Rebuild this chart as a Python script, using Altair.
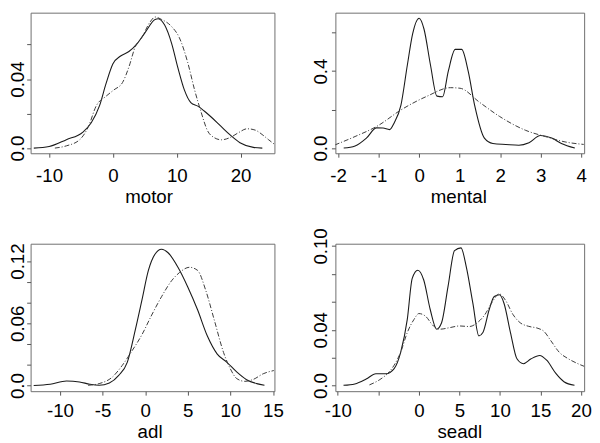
import altair as alt
import pandas as pd

FONT = "Liberation Sans"

# ---------------- data ----------------
MOTOR_SOLID_X = [-12.4, -10, -7.3, -4.7, -3.4, -2.1, -1.1, 0, 1.2, 2.5, 3.8, 5.0, 6.6, 7.1, 8.1, 9.2,
                 10.2, 11.2, 12.2, 13.3, 14.3, 15.3, 16.9, 18.4, 19.9, 22.0, 23.4]
MOTOR_SOLID_Y = [0, 0.0009, 0.0049, 0.0093, 0.0147, 0.0246, 0.0372, 0.0489, 0.0534, 0.056, 0.0606, 0.0668,
                 0.0746, 0.075, 0.0713, 0.0606, 0.0462, 0.0336, 0.0264, 0.0243, 0.0215, 0.0183, 0.0127,
                 0.0075, 0.0031, 0.0004, 0.0]
MOTOR_DASH_X = [-9.1, -7.3, -5.2, -3.9, -2.6, -1.1, 0.1, 1.5, 2.5, 3.5, 4.5, 5.8, 6.6, 7.6, 9.2, 10.4,
                11.7, 12.8, 13.8, 14.8, 15.8, 17.0, 18.4, 19.7, 21.0, 22.3, 23.5, 24.4, 25.3]
MOTOR_DASH_Y = [0, 0.0013, 0.0049, 0.012, 0.0246, 0.030, 0.0336, 0.038, 0.047, 0.0588, 0.064, 0.073,
                0.076, 0.0746, 0.0704, 0.064, 0.0498, 0.0336, 0.021, 0.0102, 0.0062, 0.0048, 0.0062,
                0.009, 0.0112, 0.0104, 0.0075, 0.0048, 0.0022]

MENTAL_SOLID_X = [-1.86, -1.58, -1.30, -1.05, -0.89, -0.73, -0.61, -0.45, -0.29, -0.16, 0.0, 0.12, 0.28,
                  0.44, 0.58, 0.72, 0.89, 1.05, 1.21, 1.37, 1.61, 1.82, 2.14, 2.46, 2.71, 2.99, 3.27,
                  3.51, 3.84]
MENTAL_SOLID_Y = [0, 0.011, 0.052, 0.105, 0.104, 0.096, 0.133, 0.222, 0.432, 0.594, 0.675, 0.619, 0.432,
                  0.270, 0.267, 0.40, 0.513, 0.513, 0.40, 0.222, 0.052, 0.024, 0.019, 0.015, 0.028,
                  0.065, 0.052, 0.024, 0.0]
MENTAL_DASH_X = [-2.08, -1.58, -1.01, -0.45, 0.20, 0.77, 1.01, 1.49, 1.98, 2.63, 3.11, 3.60, 4.06]
MENTAL_DASH_Y = [0.016, 0.06, 0.117, 0.198, 0.27, 0.314, 0.311, 0.238, 0.165, 0.092, 0.06, 0.032, 0.019]

ADL_SOLID_X = [-13.08, -11.15, -9.23, -7.7, -6.5, -5.4, -4.2, -3.1, -2.1, -1.15, -0.38, 0.38, 1.15, 1.92,
               2.69, 3.85, 5.0, 6.15, 7.3, 8.46, 9.6, 10.77, 11.9, 13.1, 14.0]
ADL_SOLID_Y = [0, 0.0013, 0.0044, 0.0035, 0.0013, 0.0003, 0.0025, 0.0098, 0.0224, 0.054, 0.0824, 0.111,
               0.1266, 0.1314, 0.128, 0.114, 0.095, 0.073, 0.0477, 0.0303, 0.0224, 0.0129, 0.0057,
               0.0019, 0.0003]
ADL_DASH_X = [-6.7, -5.4, -3.85, -2.7, -1.54, -0.38, 0.77, 1.92, 3.1, 4.04, 5.2, 6.15, 7.1, 8.1, 9.2,
              10.0, 10.77, 11.7, 12.7, 13.85, 15.1]
ADL_DASH_Y = [0.0003, 0.0019, 0.0082, 0.0193, 0.0335, 0.049, 0.068, 0.0856, 0.101, 0.109, 0.114, 0.111,
              0.092, 0.0635, 0.0319, 0.0161, 0.0066, 0.0041, 0.006, 0.0114, 0.0145]

SEADL_SOLID_X = [-9.3, -7.9, -6.5, -5.3, -4.06, -3.05, -2.24, -1.43, -0.82, -0.13, 0.6, 1.4, 2.2, 2.8,
                 3.6, 4.4, 5.2, 5.85, 6.66, 7.4, 7.9, 8.68, 9.3, 9.95, 10.5, 11.3, 12.1, 12.9, 13.8,
                 14.9, 15.8, 16.9, 17.9, 19.2]
SEADL_SOLID_Y = [0.0002, 0.0012, 0.0047, 0.0085, 0.0085, 0.0122, 0.024, 0.0474, 0.0768, 0.0826, 0.0756,
                 0.0545, 0.0404, 0.045, 0.071, 0.0967, 0.0986, 0.085, 0.059, 0.0356, 0.038, 0.0545,
                 0.0638, 0.065, 0.059, 0.038, 0.0192, 0.0157, 0.019, 0.0216, 0.018, 0.0087, 0.0028,
                 0.0002]
SEADL_DASH_X = [-6.1, -4.9, -3.85, -3.05, -2.24, -1.43, -0.6, 0.0, 0.8, 1.8, 2.6, 3.8, 5.0, 6.25, 7.2,
                8.1, 9.1, 9.9, 10.7, 11.6, 12.5, 13.5, 14.7, 15.4, 16.3, 17.3, 18.5, 19.5, 20.4]
SEADL_DASH_Y = [0.0005, 0.004, 0.0087, 0.0146, 0.024, 0.038, 0.0474, 0.0516, 0.0498, 0.0427, 0.0404,
                0.0415, 0.0427, 0.0423, 0.045, 0.0505, 0.0603, 0.0657, 0.061, 0.051, 0.045, 0.0425,
                0.041, 0.039, 0.032, 0.024, 0.019, 0.016, 0.0138]

# axis ticks and labels
MOTOR_XTICKS = [-10, 0, 10, 20]
MOTOR_XLABELS = ["-10", "0", "10", "20"]
MOTOR_YTICKS = [0, 0.02, 0.04, 0.06]
MOTOR_YLABELS = ["0.0", "", "0.04", ""]

MENTAL_XTICKS = [-2, -1, 0, 1, 2, 3, 4]
MENTAL_XLABELS = ["-2", "-1", "0", "1", "2", "3", "4"]
MENTAL_YTICKS = [0, 0.2, 0.4, 0.6]
MENTAL_YLABELS = ["0.0", "", "0.4", ""]

ADL_XTICKS = [-10, -5, 0, 5, 10, 15]
ADL_XLABELS = ["-10", "-5", "0", "5", "10", "15"]
ADL_YTICKS = [0, 0.02, 0.04, 0.06, 0.08, 0.10, 0.12]
ADL_YLABELS = ["0.0", "", "", "0.06", "", "", "0.12"]

SEADL_XTICKS = [-10, -5, 0, 5, 10, 15, 20]
SEADL_XLABELS = ["-10", "", "0", "5", "10", "15", "20"]
SEADL_YTICKS = [0, 0.02, 0.04, 0.06, 0.08, 0.10]
SEADL_YLABELS = ["0.0", "", "0.04", "", "", "0.10"]


def label_expr(values, labels):
    expr = "''"
    for v, l in reversed(list(zip(values, labels))):
        expr = f"(abs(datum.value - ({v})) < 1e-9 ? '{l}' : {expr})"
    return expr


def panel(name, sx, sy, dx, dy, xdom, ydom, xticks, xlabels, yticks, ylabels,
          w, h, ypad, xpad, title_x, title_y):
    df = pd.concat([
        pd.DataFrame({"x": sx, "y": sy, "kind": "solid"}),
        pd.DataFrame({"x": dx, "y": dy, "kind": "dash"}),
    ], ignore_index=True)
    xenc = alt.X(
        "x:Q",
        scale=alt.Scale(domain=xdom, nice=False, zero=False),
        axis=alt.Axis(values=xticks, labelExpr=label_expr(xticks, xlabels), title=name,
                      labelBaseline="alphabetic", labelPadding=xpad, labelAlign="center",
                      titleX=title_x, titleY=title_y, titleBaseline="alphabetic",
                      titleAlign="center"),
    )
    yenc = alt.Y(
        "y:Q",
        scale=alt.Scale(domain=ydom, nice=False, zero=False),
        axis=alt.Axis(values=yticks, labelExpr=label_expr(yticks, ylabels), title=None,
                      labelAngle=270, labelAlign="center", labelBaseline="alphabetic",
                      labelPadding=ypad),
    )
    base = alt.Chart(df).encode(x=xenc, y=yenc)
    solid = base.transform_filter(alt.datum.kind == "solid").mark_line(
        color="#1a1a1a", strokeWidth=1.1, interpolate="monotone", clip=True)
    dash = base.transform_filter(alt.datum.kind == "dash").mark_line(
        color="#3a3a3a", strokeWidth=1, strokeDash=[5, 2, 1, 2], interpolate="monotone", clip=True)
    return alt.layer(solid, dash).properties(width=w, height=h)


p1 = panel("motor", MOTOR_SOLID_X, MOTOR_SOLID_Y, MOTOR_DASH_X, MOTOR_DASH_Y,
           [-12.9, 25.3], [-0.003, 0.0785], MOTOR_XTICKS, MOTOR_XLABELS,
           MOTOR_YTICKS, MOTOR_YLABELS, 248, 143, 3, 25, 120, 50)
p2 = panel("mental", MENTAL_SOLID_X, MENTAL_SOLID_Y, MENTAL_DASH_X, MENTAL_DASH_Y,
           [-2.065, 4.07], [-0.027, 0.704], MENTAL_XTICKS, MENTAL_XLABELS,
           MENTAL_YTICKS, MENTAL_YLABELS, 253, 143, 5, 25, 125, 50)
p3 = panel("adl", ADL_SOLID_X, ADL_SOLID_Y, ADL_DASH_X, ADL_DASH_Y,
           [-13.44, 15.17], [-0.0054, 0.1367], ADL_XTICKS, ADL_XLABELS,
           ADL_YTICKS, ADL_YLABELS, 248, 150, 3, 22, 121, 47)
p4 = panel("seadl", SEADL_SOLID_X, SEADL_SOLID_Y, SEADL_DASH_X, SEADL_DASH_Y,
           [-10.3, 20.39], [-0.004, 0.1016], SEADL_XTICKS, SEADL_XLABELS,
           SEADL_YTICKS, SEADL_YLABELS, 253, 150, 5, 22, 126, 47)

chart = alt.concat(
    p1, p2, p3, p4, columns=2, spacing={"row": 92, "column": 62}, bounds="flush"
).properties(
    padding={"left": 0, "top": 0, "right": 0, "bottom": 0}
).configure_view(
    stroke="#6e6e6e", strokeWidth=1
).configure_axis(
    labelFont=FONT, labelFontSize=19, labelColor="#000000",
    titleFont=FONT, titleFontSize=19, titleFontWeight="normal", titleColor="#000000",
    tickColor="#555555", tickSize=4, tickWidth=1, domain=False, grid=False,
    labelOverlap=False, labelFlush=False,
)

chart.save("out.html", embed_options={"renderer": "svg", "actions": False})
